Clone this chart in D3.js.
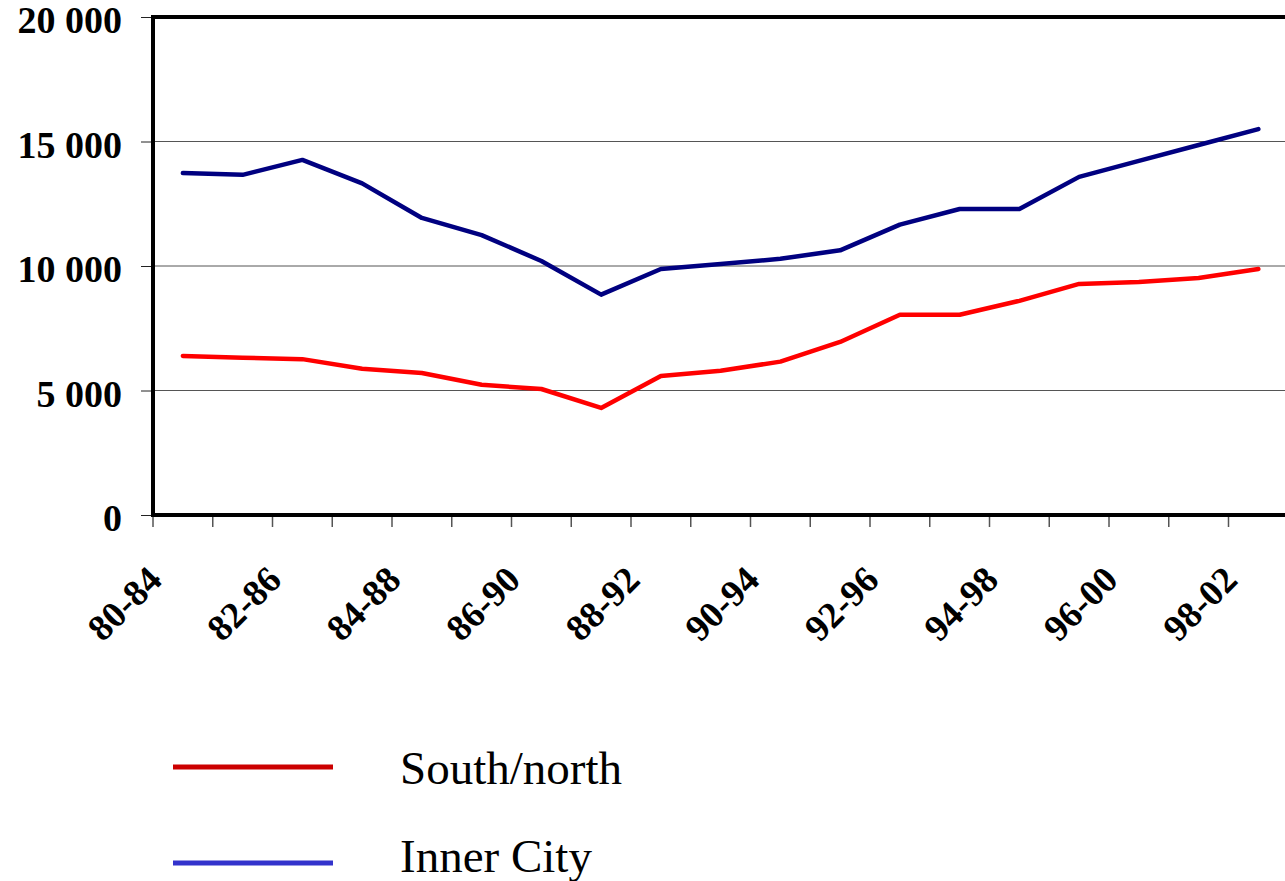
<!DOCTYPE html>
<html>
<head>
<meta charset="utf-8">
<script src="https://cdn.jsdelivr.net/npm/d3@7"></script>
<style>
  body { margin: 0; background: #fff; }
  svg { display: block; }
</style>
</head>
<body>
<script>
// periods (5-year moving windows)
var periods = ['80-84','81-85','82-86','83-87','84-88','85-89','86-90','87-91','88-92','89-93',
               '90-94','91-95','92-96','93-97','94-98','95-99','96-00','97-01','98-02'];
var south_north = [6390, 6320, 6260, 5870, 5700, 5230, 5060, 4300, 5580, 5790,
                   6160, 6950, 8040, 8040, 8600, 9280, 9360, 9520, 9880];
var inner_city = [13730, 13660, 14260, 13320, 11930, 11240, 10200, 8850, 9880, 10080,
                  10290, 10630, 11660, 12290, 12290, 13580, 14220, 14860, 15500];
var y_ticks = [0, 5000, 10000, 15000, 20000];
var legend_names = ['South/north', 'Inner City'];

var width = 1285, height = 881;
var left = 153, top_ = 17, bottom = 515;
var step = 59.75;
var right = left + step*periods.length;
var serif = '"Liberation Serif", "Times New Roman", Times, serif';

var svg = d3.select('body').append('svg').attr('width', width).attr('height', height);

var x = d3.scaleBand().domain(periods).range([left, right]);
var y = d3.scaleLinear().domain([0, 20000]).range([bottom, top_]);
var xc = d => x(d) + x.bandwidth()/2;

// gridlines
svg.append('g').selectAll('line').data(y_ticks.slice(1, -1)).join('line')
  .attr('x1', left).attr('x2', right)
  .attr('y1', d => y(d)).attr('y2', d => y(d))
  .attr('stroke', '#555').attr('stroke-width', 1);

// y axis ticks + labels
var fmt = d => d3.format(',')(d).replace(',', ' ');
var yax = svg.append('g').attr('transform', 'translate(' + left + ',0)')
  .call(d3.axisLeft(y).tickValues(y_ticks).tickSize(12).tickPadding(19).tickFormat(fmt));
yax.select('.domain').remove();
yax.selectAll('.tick line').attr('stroke', '#222');
yax.selectAll('.tick text')
  .attr('font-family', serif)
  .attr('font-weight', 'bold').attr('font-size', 38).attr('fill', '#000')
  .attr('dy', '0.42em');

// x axis ticks at category boundaries
svg.append('g').selectAll('line').data(periods).join('line')
  .attr('x1', d => x(d)).attr('x2', d => x(d))
  .attr('y1', bottom).attr('y2', bottom + 12)
  .attr('stroke', '#555').attr('stroke-width', 1.5);

// x labels, every other period
svg.append('g').selectAll('text').data(periods.filter((d, i) => i % 2 == 0)).join('text')
  .attr('transform', d => 'translate(' + (xc(d) - 19) + ',' + 582 + ') rotate(-45)')
  .attr('text-anchor', 'end')
  .attr('font-family', serif)
  .attr('font-weight', 'bold').attr('font-size', 37)
  .text(d => d);

// frame: left, bottom, top
svg.append('path')
  .attr('d', 'M' + right + ',' + top_ + 'H' + left + 'V' + bottom + 'H' + right)
  .attr('fill', 'none').attr('stroke', '#000').attr('stroke-width', 4);

// lines
var line = d3.line().x((d, i) => xc(periods[i])).y(d => y(d));
svg.append('path').datum(south_north).attr('d', line)
  .attr('fill', 'none').attr('stroke', '#ff0000').attr('stroke-width', 4.5)
  .attr('stroke-linejoin', 'round').attr('stroke-linecap', 'round');
svg.append('path').datum(inner_city).attr('d', line)
  .attr('fill', 'none').attr('stroke', '#000080').attr('stroke-width', 4.5)
  .attr('stroke-linejoin', 'round').attr('stroke-linecap', 'round');

// legend
var legend_colors = ['#cc0000', '#3333cc'];
var legend_line_y = [767, 863];
var legend_text_y = [784, 872];
var lg = svg.append('g').selectAll('g').data(legend_names).join('g');
lg.append('line').attr('x1', 173).attr('x2', 333)
  .attr('y1', (d, i) => legend_line_y[i]).attr('y2', (d, i) => legend_line_y[i])
  .attr('stroke', (d, i) => legend_colors[i]).attr('stroke-width', 5);
lg.append('text').attr('x', 400).attr('y', (d, i) => legend_text_y[i])
  .attr('font-family', serif)
  .attr('font-size', 47)
  .text(d => d);
</script>
</body>
</html>
